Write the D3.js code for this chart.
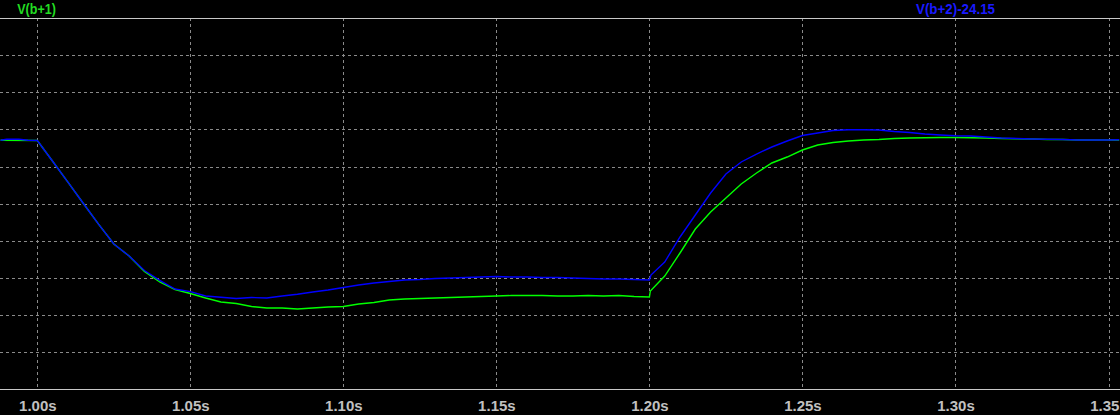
<!DOCTYPE html>
<html>
<head>
<meta charset="utf-8">
<script src="https://cdn.jsdelivr.net/npm/d3@7"></script>
<style>
  html, body { margin: 0; padding: 0; background: #000; }
  svg { display: block; }
</style>
</head>
<body>
<svg id="chart" width="1120" height="415"></svg>
<script>
// ---- data ----
const xTickValues = [1.00, 1.05, 1.10, 1.15, 1.20, 1.25, 1.30, 1.35];
const xTickLabels = ["1.00s", "1.05s", "1.10s", "1.15s", "1.20s", "1.25s", "1.30s", "1.35s"];
const yGridValues = [1, 2, 3, 4, 5, 6, 7, 8, 9];
const seriesNames = ["V(b+1)", "V(b+2)-24.15"];

const timeB = [0.988, 0.990, 0.994, 0.997, 1.000, 1.005, 1.010, 1.015, 1.020, 1.025, 1.030, 1.035, 1.040, 1.045, 1.050,
  1.055, 1.060, 1.065, 1.070, 1.075, 1.080, 1.085, 1.090, 1.095, 1.100, 1.105, 1.110, 1.115, 1.120, 1.125,
  1.130, 1.135, 1.140, 1.145, 1.150, 1.155, 1.160, 1.165, 1.170, 1.175, 1.180, 1.185, 1.190, 1.195, 1.200,
  1.2005, 1.205, 1.210, 1.215, 1.220, 1.225, 1.230, 1.235, 1.240, 1.245, 1.250, 1.255, 1.260, 1.265, 1.270,
  1.275, 1.280, 1.285, 1.290, 1.295, 1.300, 1.305, 1.310, 1.315, 1.320, 1.325, 1.330, 1.335, 1.340, 1.345,
  1.350, 1.3535];
const valueB = [6.706, 6.733, 6.733, 6.706, 6.700, 6.143, 5.578, 5.011, 4.447, 3.913, 3.590, 3.200, 2.933, 2.701, 2.629,
  2.513, 2.478, 2.445, 2.472, 2.459, 2.513, 2.559, 2.620, 2.674, 2.742, 2.809, 2.863, 2.903, 2.944, 2.957,
  2.984, 2.998, 3.011, 3.025, 3.038, 3.025, 3.025, 3.011, 3.011, 2.998, 2.984, 2.971, 2.971, 2.957, 2.944,
  3.078, 3.428, 4.102, 4.694, 5.287, 5.799, 6.122, 6.337, 6.526, 6.687, 6.835, 6.903, 6.970, 6.992, 6.992,
  6.984, 6.943, 6.916, 6.876, 6.849, 6.830, 6.822, 6.795, 6.768, 6.755, 6.741, 6.733, 6.728, 6.714, 6.714,
  6.714, 6.722];

const timeG = [0.988, 1.000, 1.005, 1.010, 1.015, 1.020, 1.025, 1.030, 1.035, 1.040, 1.045, 1.050,
  1.055, 1.060, 1.065, 1.070, 1.075, 1.080, 1.085, 1.090, 1.095, 1.100, 1.105, 1.110, 1.115, 1.120, 1.125,
  1.130, 1.135, 1.140, 1.145, 1.150, 1.155, 1.160, 1.165, 1.170, 1.175, 1.180, 1.185, 1.190, 1.195, 1.200,
  1.2003, 1.205, 1.210, 1.215, 1.220, 1.225, 1.230, 1.235, 1.240, 1.245, 1.250, 1.255, 1.260, 1.265, 1.270,
  1.275, 1.280, 1.285, 1.290, 1.295, 1.300, 1.305, 1.310, 1.315, 1.320, 1.325, 1.330, 1.335, 1.340, 1.345,
  1.350, 1.3535];
const valueG = [6.706, 6.700, 6.143, 5.578, 5.011, 4.447, 3.913, 3.590, 3.173, 2.890, 2.688, 2.580,
  2.459, 2.351, 2.311, 2.230, 2.190, 2.190, 2.163, 2.190, 2.217, 2.230, 2.297, 2.338, 2.405, 2.432, 2.445,
  2.459, 2.472, 2.486, 2.499, 2.513, 2.526, 2.526, 2.526, 2.513, 2.513, 2.526, 2.513, 2.526, 2.499, 2.486,
  2.647, 3.051, 3.671, 4.317, 4.775, 5.152, 5.529, 5.825, 6.095, 6.256, 6.445, 6.580, 6.647, 6.687, 6.714,
  6.728, 6.755, 6.768, 6.776, 6.782, 6.782, 6.776, 6.768, 6.755, 6.749, 6.741, 6.728, 6.728, 6.714, 6.714,
  6.714, 6.714];

// ---- layout ----
const W = 1120, H = 415;
const plotTop = 18, plotBottom = 389.3;
const colors = { g: "#00ff00", b: "#0000ff", grid: "#8a8a8a", frame: "#c8c8c8", text: "#c0c0c0" };
const font = "'Liberation Sans', Arial, sans-serif";

const svg = d3.select("#chart");
svg.append("rect").attr("width", W).attr("height", H).attr("fill", "#000");

const x = d3.scaleLinear().domain([1.00, 1.35]).range([37.3, 1108.5]);
const y = d3.scaleLinear().domain([0, 10]).range([plotBottom, plotTop]);

// horizontal grid
svg.append("g").selectAll("line").data(yGridValues).join("line")
  .attr("x1", 0).attr("x2", W)
  .attr("y1", d => Math.round(y(d)) + 0.5).attr("y2", d => Math.round(y(d)) + 0.5)
  .attr("stroke", colors.grid).attr("stroke-width", 1).attr("stroke-dasharray", "3,3")
  .attr("shape-rendering", "crispEdges");

// vertical grid
svg.append("g").selectAll("line").data(xTickValues).join("line")
  .attr("x1", d => Math.round(x(d)) + 0.5).attr("x2", d => Math.round(x(d)) + 0.5)
  .attr("y1", plotTop).attr("y2", plotBottom)
  .attr("stroke", colors.grid).attr("stroke-width", 1).attr("stroke-dasharray", "3,3")
  .attr("shape-rendering", "crispEdges");

// frame lines
[plotTop, plotBottom].forEach(py => {
  svg.append("line").attr("x1", 0).attr("x2", W)
    .attr("y1", Math.round(py) + 0.5).attr("y2", Math.round(py) + 0.5)
    .attr("stroke", colors.frame).attr("stroke-width", 1.2).attr("shape-rendering", "crispEdges");
});

// x axis labels
const xAxis = d3.axisBottom(x).tickValues(xTickValues)
  .tickFormat((d, i) => xTickLabels[i]).tickSize(0).tickPadding(0);
const ax = svg.append("g").attr("transform", `translate(0,${plotBottom})`).call(xAxis);
ax.select(".domain").remove();
ax.selectAll("text")
  .attr("y", 21.7).attr("dy", null)
  .attr("fill", colors.text)
  .style("font-family", font)
  .style("font-size", "15px").style("font-weight", "bold");

// clip
svg.append("clipPath").attr("id", "clip").append("rect")
  .attr("x", 0).attr("y", plotTop).attr("width", W).attr("height", plotBottom - plotTop);

const line = d3.line().x(d => x(d[0])).y(d => y(d[1]));
const gLines = svg.append("g").attr("clip-path", "url(#clip)");
gLines.append("path").datum(d3.zip(timeG, valueG)).attr("d", line)
  .attr("fill", "none").attr("stroke", colors.g).attr("stroke-width", 1.4);
gLines.append("path").datum(d3.zip(timeB, valueB)).attr("d", line)
  .attr("fill", "none").attr("stroke", colors.b).attr("stroke-width", 1.4);

// series labels
svg.append("text").attr("x", 36.6).attr("y", 14).attr("text-anchor", "middle")
  .attr("fill", "#22dd22").style("font-family", font)
  .attr("textLength", 38.7).attr("lengthAdjust", "spacingAndGlyphs")
  .style("font-size", "14.5px").style("font-weight", "bold").text(seriesNames[0]);
svg.append("text").attr("x", 955.5).attr("y", 14).attr("text-anchor", "middle")
  .attr("fill", "#1a1aff").style("font-family", font)
  .attr("textLength", 79).attr("lengthAdjust", "spacingAndGlyphs")
  .style("font-size", "14.5px").style("font-weight", "bold").text(seriesNames[1]);
</script>
</body>
</html>
